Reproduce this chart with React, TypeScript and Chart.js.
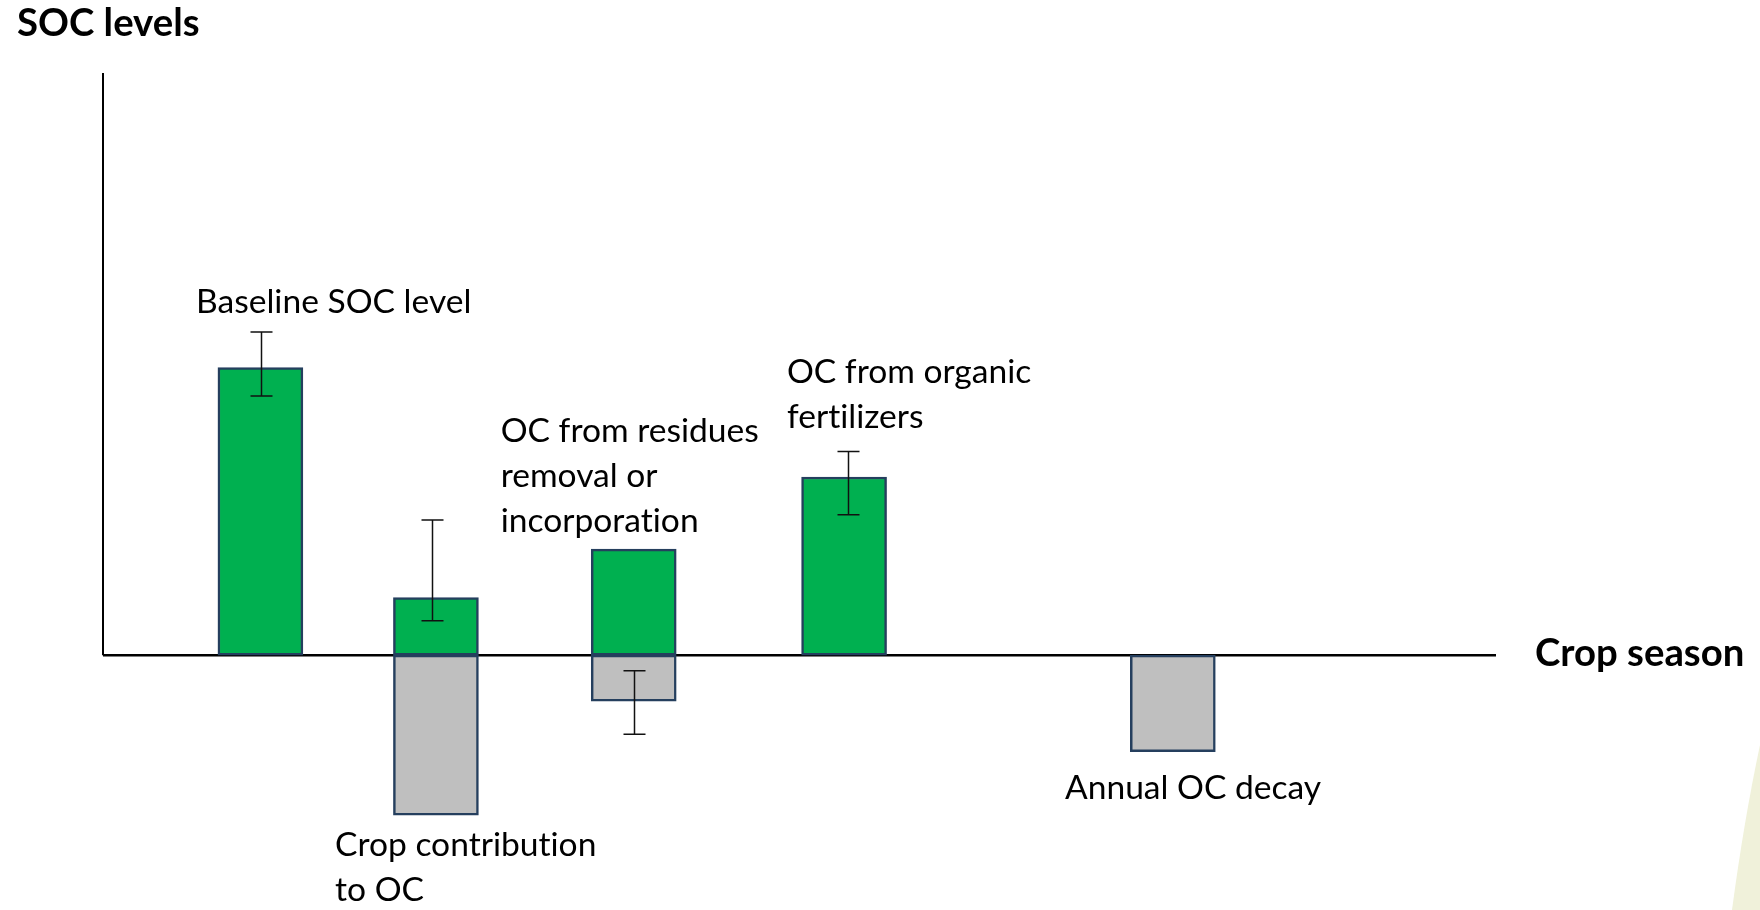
import { useEffect, useRef } from 'react';
import { Chart, registerables } from 'chart.js';

Chart.register(...registerables);

// ---------- data ----------
const categories = [
  'Baseline SOC level',
  'Crop contribution to OC',
  'OC from residues removal or incorporation',
  'OC from organic fertilizers',
  'Annual OC decay',
];
// position along the crop season (0-100)
const seasonPosition = [11.3, 23.9, 38.1, 53.2, 76.8];
// SOC gains (green) and losses (grey)
const gains: (number | null)[] = [4.94, 0.99, 1.82, 3.06, null];
const losses: (number | null)[] = [null, -2.75, -0.79, null, -1.66];
// error bars
const errorPosition: (number | null)[] = [11.35, 23.65, 38.1, 53.45, null];
const errorHigh: (number | null)[] = [5.55, 2.32, -0.27, 3.5, null];
const errorLow: (number | null)[] = [4.45, 0.59, -1.36, 2.41, null];
// label text lines
const labelLines: string[][] = [
  ['Baseline SOC level'],
  ['Crop contribution', 'to OC'],
  ['OC from residues', 'removal or', 'incorporation'],
  ['OC from organic', 'fertilizers'],
  ['Annual OC decay'],
];
const yAxisTitle = 'SOC levels';
const xAxisTitle = 'Crop season';

const FONT = 'Lato, "Open Sans", "DejaVu Sans", sans-serif';
const GREEN = '#00B050';
const GREY = '#BFBFBF';
const EDGE = '#253F5E';

function noLigatures(ctx: any) {
  try {
    ctx.textRendering = 'optimizeSpeed';
  } catch (e) {
    /* ignore */
  }
}

function fitSize(ctx: CanvasRenderingContext2D, texts: string[], target: number, weight: string) {
  ctx.save();
  noLigatures(ctx);
  ctx.font = `${weight} 100px ${FONT}`;
  let total = 0;
  for (const t of texts) total += ctx.measureText(t).width;
  ctx.restore();
  return (100 * target) / total;
}

const decorPlugin = {
  id: 'decor',
  beforeDraw(chart: any) {
    const { ctx, width, height } = chart;
    ctx.save();
    ctx.fillStyle = '#ffffff';
    ctx.fillRect(0, 0, width, height);
    // faint slide decoration, bottom right
    ctx.fillStyle = '#F0F1DA';
    ctx.beginPath();
    ctx.moveTo(width, height - 165);
    ctx.quadraticCurveTo(width - 16, height - 90, width - 28, height);
    ctx.lineTo(width, height);
    ctx.closePath();
    ctx.fill();
    ctx.restore();
  },
  beforeDatasetsDraw(chart: any) {
    const { ctx, chartArea } = chart;
    const y0 = chart.scales.y.getPixelForValue(0);
    ctx.save();
    ctx.strokeStyle = '#000';
    ctx.lineWidth = 2;
    ctx.beginPath();
    ctx.moveTo(chartArea.left, chartArea.top);
    ctx.lineTo(chartArea.left, y0);
    ctx.stroke();
    ctx.lineWidth = 2.5;
    ctx.beginPath();
    ctx.moveTo(chartArea.left, y0);
    ctx.lineTo(chartArea.right, y0);
    ctx.stroke();
    ctx.restore();
  },
  afterDatasetsDraw(chart: any) {
    const { ctx } = chart;
    const xs = chart.scales.x;
    const ys = chart.scales.y;
    ctx.save();
    ctx.strokeStyle = '#111';
    ctx.lineWidth = 1.5;
    for (let i = 0; i < categories.length; i++) {
      const ex = errorPosition[i];
      const hi = errorHigh[i];
      const lo = errorLow[i];
      if (ex == null || hi == null || lo == null) continue;
      const px = Math.round(xs.getPixelForValue(ex)) + 0.5;
      const pHi = ys.getPixelForValue(hi);
      const pLo = ys.getPixelForValue(lo);
      ctx.beginPath();
      ctx.moveTo(px, pHi);
      ctx.lineTo(px, pLo);
      ctx.moveTo(px - 11, pHi);
      ctx.lineTo(px + 11, pHi);
      ctx.moveTo(px - 11, pLo);
      ctx.lineTo(px + 11, pLo);
      ctx.stroke();
    }
    ctx.restore();
  },
  afterDraw(chart: any) {
    const { ctx, chartArea } = chart;
    const xs = chart.scales.x;
    const ys = chart.scales.y;
    const regSize = fitSize(ctx, ['Annual OC decay', 'Baseline SOC level', 'Crop contribution', 'OC from residues', 'OC from organic'], 1296, '400');
    const boldSize = fitSize(ctx, [yAxisTitle, xAxisTitle], 392, '700');
    ctx.save();
    noLigatures(ctx);
    ctx.fillStyle = '#000';
    ctx.textBaseline = 'alphabetic';
    ctx.textAlign = 'left';
    // placement of each label: left edge (season units) and first baseline (SOC units)
    const placement = [
      [6.68, 5.877],
      [16.66, -3.453],
      [28.55, 3.661],
      [49.1, 4.669],
      [69.06, -2.477],
    ];
    ctx.font = `400 ${regSize}px ${FONT}`;
    labelLines.forEach((lines, i) => {
      const x = xs.getPixelForValue(placement[i][0]);
      const y = ys.getPixelForValue(placement[i][1]);
      lines.forEach((t, k) => ctx.fillText(t, x, y + k * 45));
    });
    ctx.font = `700 ${boldSize}px ${FONT}`;
    ctx.fillText(yAxisTitle, 17, 36);
    const y0 = ys.getPixelForValue(0);
    ctx.fillText(xAxisTitle, chartArea.right + 39, y0 + 11);
    ctx.restore();
  },
};

export default function App() {
  const ref = useRef<HTMLCanvasElement>(null);
  useEffect(() => {
    const canvas = ref.current;
    if (!canvas) return;
    const gainData = seasonPosition
      .map((x, i) => ({ x, y: gains[i] }))
      .filter((p) => p.y != null);
    const lossData = seasonPosition
      .map((x, i) => ({ x, y: losses[i] }))
      .filter((p) => p.y != null);
    const chart = new Chart(canvas, {
      type: 'bar',
      data: {
        datasets: [
          {
            label: 'Gains',
            data: gainData as any,
            backgroundColor: GREEN,
            borderColor: EDGE,
            borderWidth: 2.5,
            borderSkipped: false,
            barThickness: 85,
            grouped: false,
          } as any,
          {
            label: 'Losses',
            data: lossData as any,
            backgroundColor: GREY,
            borderColor: EDGE,
            borderWidth: 2.5,
            borderSkipped: false,
            barThickness: 85,
            grouped: false,
          } as any,
        ],
      },
      options: {
        responsive: false,
        animation: false,
        devicePixelRatio: 1,
        layout: { padding: { left: 103, right: 264, top: 73, bottom: 22 } },
        plugins: { legend: { display: false }, tooltip: { enabled: false } },
        scales: {
          x: { type: 'linear', min: 0, max: 100, offset: false, display: false, grid: { offset: false } },
          y: { type: 'linear', min: -4, max: 10, display: false },
        },
      },
      plugins: [decorPlugin],
    });
    return () => chart.destroy();
  }, []);
  return (
    <div style={{ position: 'absolute', left: 0, top: 0, width: 1760, height: 910, background: '#fff' }}>
      <canvas ref={ref} width={1760} height={910} style={{ display: 'block', width: 1760, height: 910 }} />
    </div>
  );
}
